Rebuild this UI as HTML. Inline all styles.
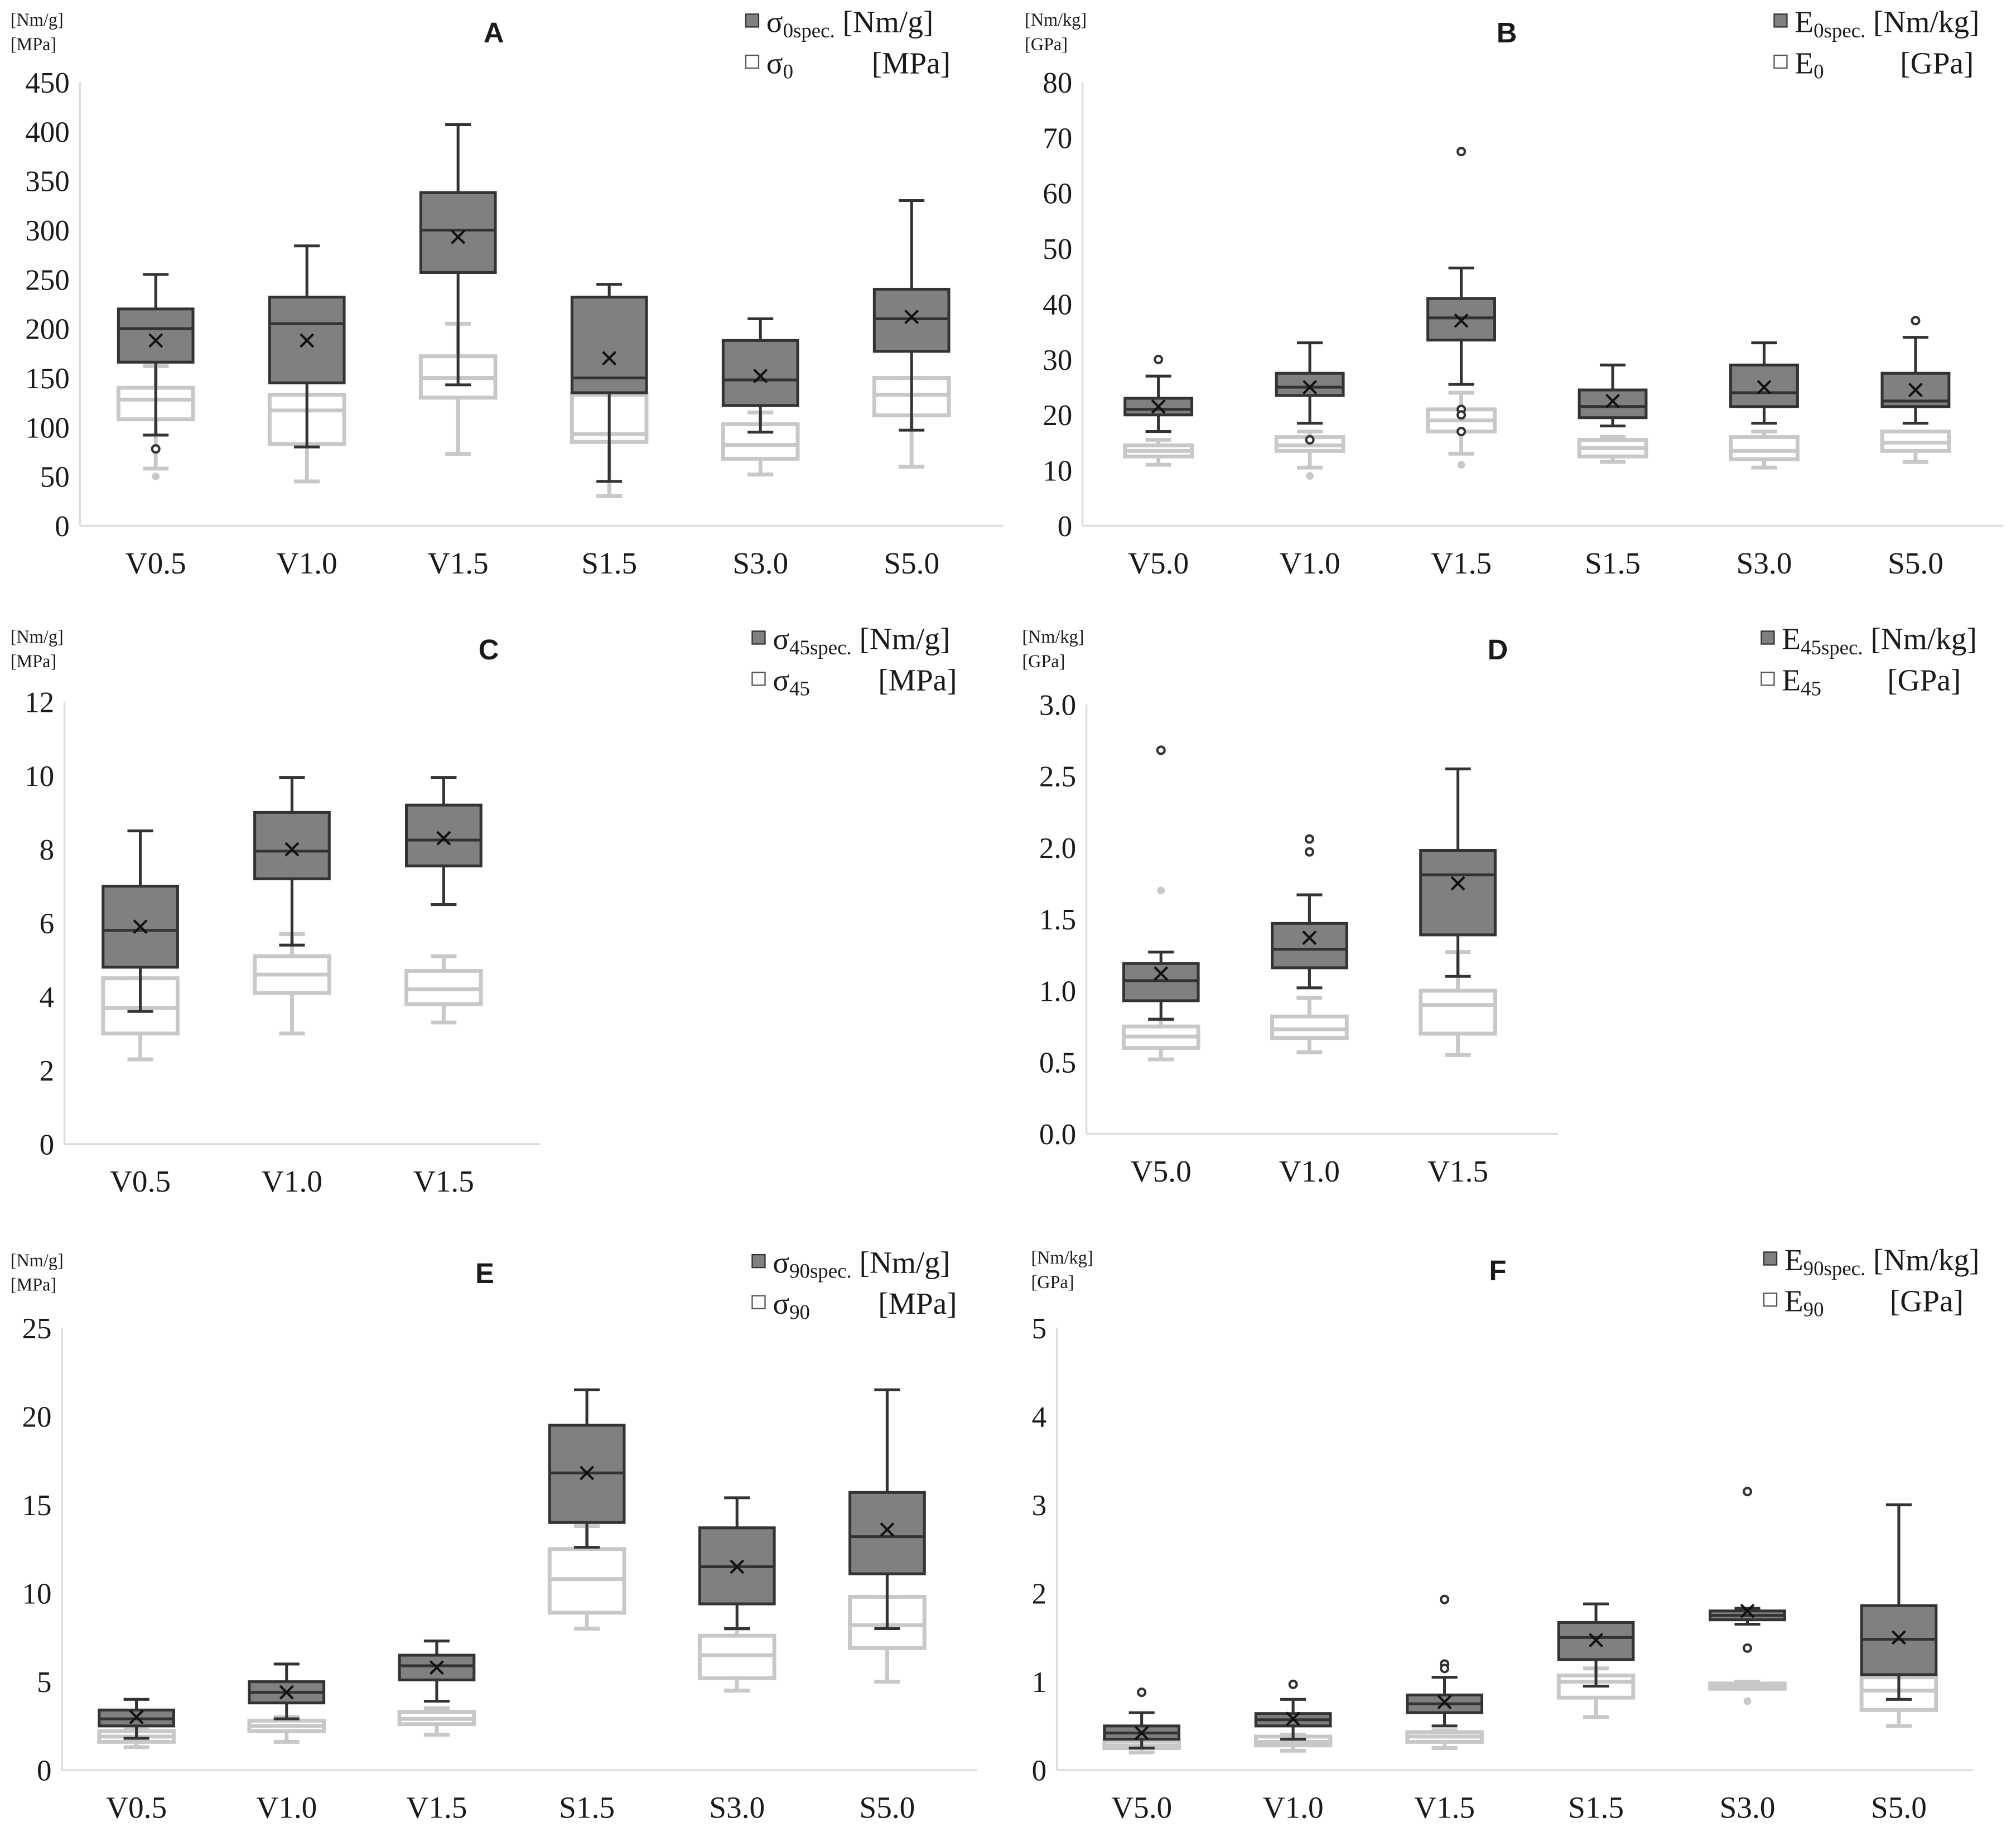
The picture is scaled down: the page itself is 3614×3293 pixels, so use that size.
<!DOCTYPE html>
<html><head><meta charset="utf-8"><style>
html,body{margin:0;padding:0;background:#fff;}
svg{display:block;}
text{font-family:"Liberation Serif",serif;fill:#1a1a1a;}
.t{font-family:"Liberation Sans",sans-serif;font-weight:bold;}
</style></head><body>
<svg id="fig" width="3614" height="3293" viewBox="0 0 1568 1429" xmlns="http://www.w3.org/2000/svg"></svg>
<script>
// ---- Data (arrays: [min, q1, median, q3, max]) ----
const catsA = ["V0.5","V1.0","V1.5","S1.5","S3.0","S5.0"];
const darkA = [[92,166,200,220,255],[80,145,205,232,284],[143,257,300,338,407],[45,135,150,232,245],[95,122,148,188,210],[97,177,210,240,330]];
const meanA = [188,188,293,170,152,212];
const outDarkA = [[78],[],[],[],[],[]];
const lightA = [[58,108,128,140,162],[45,83,117,133,133],[73,130,150,172,205],[30,85,93,133,133],[52,68,82,103,115],[60,112,133,150,150]];
const outLightA = [[50],[],[],[],[],[]];
const ticksA = [0,50,100,150,200,250,300,350,400,450];

const catsB = ["V5.0","V1.0","V1.5","S1.5","S3.0","S5.0"];
const darkB = [[17,20,21,23,27],[18.5,23.5,25,27.5,33],[25.5,33.5,37.5,41,46.5],[18,19.5,21.5,24.5,29],[18.5,21.5,24,29,33],[18.5,21.5,22.5,27.5,34]];
const meanB = [21.5,25,37,22.5,25,24.5];
const outDarkB = [[30],[15.5],[67.5,21,20,17],[],[],[37]];
const lightB = [[11,12.5,13.5,14.5,15.5],[10.5,13.5,14.5,16,17],[13,17,19,21,24],[11.5,12.5,14,15.5,16],[10.5,12,13.5,16,17],[11.5,13.5,15,17,17]];
const outLightB = [[],[9],[11],[],[],[]];
const ticksB = [0,10,20,30,40,50,60,70,80];

const catsC = ["V0.5","V1.0","V1.5"];
const darkC = [[3.6,4.8,5.8,7.0,8.5],[5.4,7.2,7.95,9.0,9.95],[6.5,7.55,8.25,9.2,9.95]];
const meanC = [5.9,8.0,8.3];
const outDarkC = [[],[],[]];
const lightC = [[2.3,3.0,3.7,4.5,4.5],[3.0,4.1,4.6,5.1,5.7],[3.3,3.8,4.2,4.7,5.1]];
const outLightC = [[],[],[]];
const ticksC = [0,2,4,6,8,10,12];

const catsD = ["V5.0","V1.0","V1.5"];
const darkD = [[0.8,0.93,1.07,1.19,1.27],[1.02,1.16,1.29,1.47,1.67],[1.1,1.39,1.81,1.98,2.55]];
const meanD = [1.12,1.37,1.75];
const outDarkD = [[2.68],[2.06,1.97],[]];
const lightD = [[0.52,0.6,0.68,0.75,0.8],[0.57,0.67,0.73,0.82,0.95],[0.55,0.7,0.9,1.0,1.27]];
const outLightD = [[1.7],[],[]];
const ticksD = ["0.0","0.5","1.0","1.5","2.0","2.5","3.0"];

const catsE = ["V0.5","V1.0","V1.5","S1.5","S3.0","S5.0"];
const darkE = [[1.8,2.5,2.9,3.4,4.0],[2.9,3.8,4.4,5.0,6.0],[3.9,5.1,5.9,6.5,7.3],[12.6,14.0,16.8,19.5,21.5],[8.0,9.4,11.5,13.7,15.4],[8.0,11.1,13.2,15.7,21.5]];
const meanE = [3.0,4.4,5.8,16.8,11.5,13.6];
const outDarkE = [[],[],[],[],[],[]];
const lightE = [[1.3,1.6,1.9,2.2,2.3],[1.6,2.2,2.5,2.8,3.0],[2.0,2.6,2.9,3.3,3.5],[8.0,8.9,10.8,12.5,13.8],[4.5,5.2,6.5,7.6,8.0],[5.0,6.9,8.2,9.8,9.8]];
const outLightE = [[],[],[],[],[],[]];
const ticksE = [0,5,10,15,20,25];

const catsF = ["V5.0","V1.0","V1.5","S1.5","S3.0","S5.0"];
const darkF = [[0.25,0.35,0.42,0.5,0.65],[0.35,0.5,0.57,0.64,0.8],[0.5,0.65,0.75,0.85,1.05],[0.95,1.25,1.5,1.67,1.88],[1.65,1.7,1.75,1.8,1.83],[0.8,1.08,1.48,1.86,3.0]];
const meanF = [0.42,0.58,0.77,1.47,1.8,1.5];
const outDarkF = [[0.88],[0.97],[1.93,1.2,1.15],[],[3.15,1.38],[]];
const lightF = [[0.2,0.25,0.28,0.33,0.36],[0.22,0.28,0.32,0.38,0.4],[0.25,0.32,0.38,0.43,0.45],[0.6,0.82,1.0,1.07,1.15],[0.92,0.92,0.95,0.98,1.0],[0.5,0.68,0.9,1.05,1.05]];
const outLightF = [[],[],[],[],[0.78],[]];
const ticksF = [0,1,2,3,4,5];

const NS = "http://www.w3.org/2000/svg";
const fig = document.getElementById('fig');
function mk(tag, attrs, parent, txt){
  const e = document.createElementNS(NS, tag);
  for (const k in attrs) e.setAttribute(k, attrs[k]);
  if (txt !== undefined) e.textContent = txt;
  (parent||fig).appendChild(e);
  return e;
}

function panel(p){
  const g = mk('g', {});
  
  
  const yMax = parseFloat(p.ticks[p.ticks.length-1]);
  const y = v => p.y0 - (v / yMax) * (p.y0 - p.yTop);
  const x = i => p.c0 + i * p.step;
  // axes
  const ax = mk('line', {x1:p.ax, y1:p.yTop, x2:p.ax, y2:p.y0, stroke:'#dcdcdc', 'stroke-width':1.5}, g);
  
  
  const xa = mk('line', {x1:p.ax, y1:p.y0, x2:p.xr, y2:p.y0, stroke:'#dcdcdc', 'stroke-width':1.5}, g);
  
  
  p.ticks.forEach(t => {
    const tl = mk('text', {x:p.ax-8, y:y(parseFloat(t))+8, 'text-anchor':'end', 'font-size':23}, g, String(t));
    
    
  });
  p.cats.forEach((c,i) => {
    const cl = mk('text', {x:x(i), y:p.y0+37, 'text-anchor':'middle', 'font-size':24}, g, c);
    
    
  });
  // units
  const u1 = mk('text', {x:p.ux, y:p.uy, 'font-size':14}, g, p.u1);
  
  
  const u2 = mk('text', {x:p.ux, y:p.uy+19, 'font-size':14}, g, p.u2);
  
  
  const tt = mk('text', {x:p.tx, y:p.uy+13, 'text-anchor':'middle', 'font-size':22, class:'t'}, g, p.id);
  
  
  // legend
  const lg = mk('g', {}, g);
  
  
  mk('rect', {x:p.lx, y:p.uy-9, width:10, height:10, fill:'#808080', stroke:'#333', 'stroke-width':1}, lg);
  const l1 = mk('text', {x:p.lx+16, y:p.uy+5, 'font-size':24}, lg);
  l1.innerHTML = p.sym + '<tspan font-size="16" dy="4">' + p.sub + 'spec.</tspan><tspan dy="-4"> ' + p.u1 + '</tspan>';
  
  
  mk('rect', {x:p.lx, y:p.uy+23, width:10, height:10, fill:'#fff', stroke:'#555', 'stroke-width':1}, lg);
  const l2 = mk('text', {x:p.lx+16, y:p.uy+37, 'font-size':24}, lg);
  l2.innerHTML = p.sym + '<tspan font-size="16" dy="4">' + p.sub + '</tspan>';
  
  
  const l3 = mk('text', {x:p.lx+98, y:p.uy+37, 'font-size':24}, lg, p.u2);
  
  

  const hw = p.bw/2, cw = 10;
  function box(st, i, col, fill, sw, name){
    const bg = mk('g', {}, g);
    
    
    const cx = x(i);
    mk('line', {x1:cx, y1:y(st[0]), x2:cx, y2:y(st[1]), stroke:col, 'stroke-width':sw}, bg);
    mk('line', {x1:cx, y1:y(st[3]), x2:cx, y2:y(st[4]), stroke:col, 'stroke-width':sw}, bg);
    mk('line', {x1:cx-cw, y1:y(st[0]), x2:cx+cw, y2:y(st[0]), stroke:col, 'stroke-width':sw}, bg);
    mk('line', {x1:cx-cw, y1:y(st[4]), x2:cx+cw, y2:y(st[4]), stroke:col, 'stroke-width':sw}, bg);
    mk('rect', {x:cx-hw, y:y(st[3]), width:p.bw, height:Math.max(1, y(st[1])-y(st[3])), fill:fill, stroke:col, 'stroke-width':sw}, bg);
    mk('line', {x1:cx-hw, y1:y(st[2]), x2:cx+hw, y2:y(st[2]), stroke:col, 'stroke-width':sw}, bg);
    return bg;
  }
  p.light.forEach((st,i) => {
    box(st, i, '#c8c8c8', 'none', 3, 'box-absolute');
    p.outL[i].forEach(v => {
      const o = mk('circle', {cx:x(i), cy:y(v), r:3, fill:'#c8c8c8'}, g);
      
      
    });
  });
  p.dark.forEach((st,i) => {
    // draw whiskers on top of light boxes but fill dark box
    box(st, i, '#333', '#808080', 2.2, 'box-specific');
    const m = p.mean[i], cx = x(i), my = y(m);
    const mm = mk('path', {d:`M${cx-5},${my-5}L${cx+5},${my+5}M${cx-5},${my+5}L${cx+5},${my-5}`, stroke:'#111', 'stroke-width':1.8}, g);
    
    
    p.outD[i].forEach(v => {
      const o = mk('circle', {cx:cx, cy:y(v), r:2.8, fill:'#fff', stroke:'#333', 'stroke-width':1.8}, g);
      
      
    });
  });
}

panel({id:'A', cats:catsA, dark:darkA, mean:meanA, outD:outDarkA, light:lightA, outL:outLightA, ticks:ticksA,
  ax:62, xr:780, yTop:64, y0:409, c0:121, step:117.6, bw:58, ux:8, uy:20, u1:'[Nm/g]', u2:'[MPa]', tx:384, lx:580, sym:'σ', sub:'0'});
panel({id:'B', cats:catsB, dark:darkB, mean:meanB, outD:outDarkB, light:lightB, outL:outLightB, ticks:ticksB,
  ax:842, xr:1558, yTop:64, y0:409, c0:901, step:117.8, bw:52, ux:797, uy:20, u1:'[Nm/kg]', u2:'[GPa]', tx:1172, lx:1380, sym:'E', sub:'0'});
panel({id:'C', cats:catsC, dark:darkC, mean:meanC, outD:outDarkC, light:lightC, outL:outLightC, ticks:ticksC,
  ax:50, xr:420, yTop:546, y0:890, c0:109, step:118, bw:58, ux:8, uy:500, u1:'[Nm/g]', u2:'[MPa]', tx:380, lx:585, sym:'σ', sub:'45'});
panel({id:'D', cats:catsD, dark:darkD, mean:meanD, outD:outDarkD, light:lightD, outL:outLightD, ticks:ticksD,
  ax:845, xr:1212, yTop:548, y0:882, c0:903, step:115.5, bw:58, ux:795, uy:500, u1:'[Nm/kg]', u2:'[GPa]', tx:1165, lx:1370, sym:'E', sub:'45'});
panel({id:'E', cats:catsE, dark:darkE, mean:meanE, outD:outDarkE, light:lightE, outL:outLightE, ticks:ticksE,
  ax:48, xr:760, yTop:1033, y0:1377, c0:106, step:116.8, bw:58, ux:8, uy:985, u1:'[Nm/g]', u2:'[MPa]', tx:377, lx:585, sym:'σ', sub:'90'});
panel({id:'F', cats:catsF, dark:darkF, mean:meanF, outD:outDarkF, light:lightF, outL:outLightF, ticks:ticksF,
  ax:822, xr:1535, yTop:1033, y0:1377, c0:888, step:117.8, bw:58, ux:802, uy:983, u1:'[Nm/kg]', u2:'[GPa]', tx:1165, lx:1372, sym:'E', sub:'90'});
</script>
</body></html>
